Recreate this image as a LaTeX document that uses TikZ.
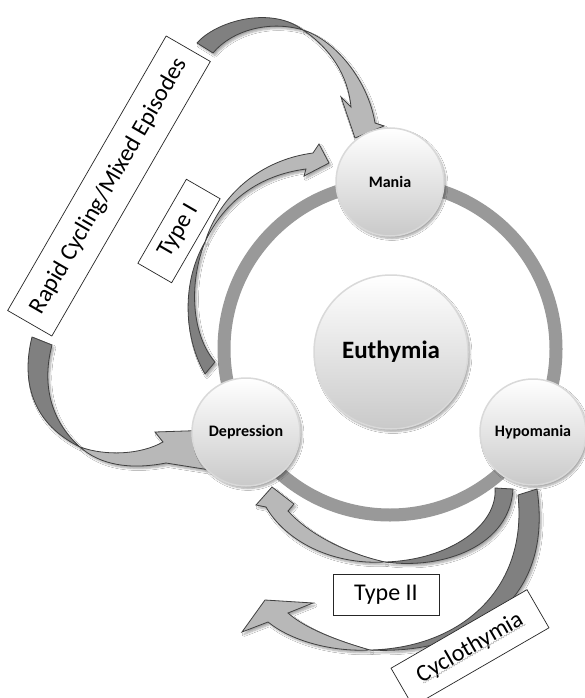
\documentclass[tikz,border=0pt]{standalone}
\usepackage{fontspec}
\setmainfont{Carlito}
\usetikzlibrary{shadows.blur,decorations.pathmorphing}
\definecolor{ringgray}{gray}{0.6}
\definecolor{darkarr}{gray}{0.5}
\definecolor{lightarr}{gray}{0.72}
\definecolor{edgecol}{gray}{0.25}
\tikzset{
  shd/.style={blur shadow={shadow xshift=2pt, shadow yshift=-2.5pt, shadow blur steps=6, shadow opacity=35}},
  arrdark/.style={fill=darkarr, draw=edgecol, line width=0.8pt, line join=round, shd},
  arrlight/.style={fill=lightarr, draw=edgecol, line width=0.8pt, line join=miter, miter limit=20, shd},
  lbl/.style={draw=black!85, fill=white, line width=0.7pt, inner sep=0pt, font=\fontsize{24}{28}\selectfont},
  state/.style={circle, inner sep=0pt, draw=gray!30, line width=1.5pt, top color=white, bottom color=gray!42, shd, font=\bfseries\fontsize{16}{19}\selectfont},
}
\begin{document}
\begin{tikzpicture}[x=1pt,y=-1pt]
\path[fill=white] (0,0) rectangle (585,698);
\useasboundingbox (0,0) rectangle (585,698);
\coordinate (ctr) at (390,349);
\draw[ringgray, line width=13pt] (ctr) circle (166pt);

% Rapid cycling: top arrow to Mania
\path[arrdark] (197,43) .. controls (215,22) and (270,5) .. (303,30) .. controls (270,20) and (232,30) .. (213,53) -- cycle;
\path[arrlight] (303,30) .. controls (335,40) and (368,80) .. (375,123) -- (384,126) -- (355,138) -- (341,97) -- (351,107) .. controls (348,75) and (330,48) .. (303,30) -- cycle;

% Rapid cycling: lower arrow to Depression
\path[arrdark] (32,337) .. controls (20,385) and (35,425) .. (80,447) .. controls (55,425) and (40,390) .. (52,345) -- cycle;
\path[arrlight] (80,447) .. controls (105,456) and (140,455) .. (163,442) -- (155,432) -- (215,430) -- (210,470) -- (166,463) .. controls (130,470) and (100,465) .. (80,447) -- cycle;

% Type I: Depression to Mania
\path[arrdark] (205,374) .. controls (185,340) and (180,285) .. (205,242) .. controls (188,285) and (192,335) .. (215,362) -- cycle;
\path[arrlight] (205,242) .. controls (220,195) and (260,160) .. (313,153) -- (319,144) -- (329,163) -- (304,176) -- (306,169) .. controls (260,175) and (225,200) .. (205,242) -- cycle;

% Type II: Hypomania to Depression
\path[arrdark] (385,562) .. controls (445,570) and (510,545) .. (513,489) -- (495,488) .. controls (498,525) and (450,560) .. (385,562) -- cycle;
\path[arrlight] (385,562) .. controls (330,565) and (285,540) .. (266,507) -- (256,505) -- (272,487) -- (294,504) -- (288,511) .. controls (305,530) and (340,552) .. (385,562) -- cycle;

% Cyclothymia
\path[arrdark] (370,650) .. controls (460,655) and (555,610) .. (537,489) -- (518,495) .. controls (528,590) and (460,648) .. (370,650) -- cycle;
\path[arrlight] (370,650) .. controls (335,640) and (305,628) .. (288,613) -- (313,603) -- (265,600) -- (242,632) -- (268,622) .. controls (290,640) and (330,652) .. (370,650) -- cycle;

% labels
\node[lbl, minimum width=317pt, minimum height=51pt, rotate=60] (rapid) at (109,186) {Rapid Cycling/Mixed Episodes};
\node[lbl, minimum width=97pt, minimum height=39pt, rotate=60] (t1) at (179,231) {Type I};
\node[lbl, minimum width=106pt, minimum height=41pt] (t2) at (386,595) {Type II};
\node[lbl, minimum width=157pt, minimum height=44pt, rotate=30] (cyc) at (470,648) {Cyclothymia};
\begin{scope}[shift={(cyc.center)}, rotate=30]
\draw[gray!70, line width=0.5pt, decorate, decoration={snake, amplitude=0.7pt, segment length=3pt}] (-58,7) -- (60,7);
\end{scope}

% states
\node[state, minimum size=154pt, font=\bfseries\fontsize{25}{30}\selectfont] (eu) at (391,352) {Euthymia};
\node[state, minimum size=108pt] (mania) at (390,182) {Mania};
\node[state, minimum size=108pt] (dep) at (246,432) {Depression};
\node[state, minimum size=106pt] (hypo) at (533,432) {Hypomania};
\end{tikzpicture}
\end{document}
